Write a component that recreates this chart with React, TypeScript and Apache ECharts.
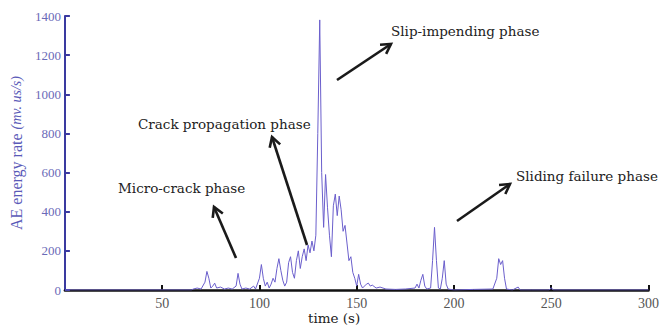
import React, { useEffect, useRef } from "react";
import * as echarts from "echarts";

const times = [0, 65, 66, 68, 70, 72, 73, 74, 75, 76, 77, 78, 80, 82, 84, 86, 88, 89, 90, 91, 93, 95, 97, 98, 100, 101, 102, 103, 104, 105, 106, 107, 108, 109, 110, 111, 112, 113, 114, 115, 116, 117, 118, 119, 120, 121, 122, 123, 124, 125, 126, 127, 128, 129, 130, 131, 132, 133, 134, 135, 136, 137, 138, 139, 140, 141, 142, 143, 144, 145, 146, 147, 148, 149, 150, 151, 152, 153, 155, 156, 157, 158, 160, 162, 165, 170, 175, 180, 181, 182, 183, 184, 185, 186, 188, 189, 190, 191, 192, 193, 194, 195, 196, 197, 200, 210, 220, 222, 223, 224, 225, 226, 227, 230, 233, 234, 240, 249, 250, 251, 300];
const energy = [0, 0, 5, 10, 5, 40, 95, 60, 10, 20, 35, 10, 15, 5, 10, 5, 20, 85, 30, 5, 10, 5, 20, 5, 60, 130, 60, 20, 40, 10, 30, 60, 40, 110, 160, 100, 50, 20, 40, 140, 170, 90, 60, 150, 200, 110, 170, 210, 150, 230, 190, 250, 200, 280, 800, 1380, 600, 320, 590, 420, 280, 170, 430, 490, 380, 480, 410, 300, 330, 240, 150, 170, 90, 60, 20, 80, 30, 10, 30, 35, 20, 25, 10, 15, 5, 3, 5, 10, 30, 10, 50, 80, 20, 5, 10, 150, 320, 150, 10, 5, 60, 150, 30, 5, 0, 3, 5, 60, 160, 130, 150, 60, 5, 0, 15, 0, 0, 0, 12, 0, 0];
const xTicks = [50, 100, 150, 200, 250, 300];
const yTicks = [0, 200, 400, 600, 800, 1000, 1200, 1400];
const phaseLabels = ["Micro-crack phase", "Crack propagation phase", "Slip-impending phase", "Sliding failure phase"];

function arrow(x1: number, y1: number, x2: number, y2: number) {
  const dx = x2 - x1, dy = y2 - y1;
  const len = Math.sqrt(dx * dx + dy * dy);
  const ux = dx / len, uy = dy / len;
  const h = 11, a = Math.PI / 6;
  const c = Math.cos(a), s = Math.sin(a);
  const w1 = [x2 - h * (ux * c - uy * s), y2 - h * (uy * c + ux * s)];
  const w2 = [x2 - h * (ux * c + uy * s), y2 - h * (uy * c - ux * s)];
  const st = { stroke: "#1a1a1a", lineWidth: 2.6, fill: null as any };
  return [
    { type: "line", shape: { x1, y1, x2, y2 }, style: st, silent: true },
    { type: "polyline", shape: { points: [w1, [x2, y2], w2] }, style: st, silent: true },
  ];
}

export default function App() {
  const ref = useRef<HTMLDivElement>(null);
  useEffect(() => {
    if (!ref.current) return;
    const chart = echarts.init(ref.current, null, { renderer: "svg" });
    const font = "'Liberation Serif', 'DejaVu Serif', serif";
    const afont = "'DejaVu Serif', serif";
    const textStyle = (x: number, y: number, t: string) => ({
      type: "text",
      x,
      y,
      style: { text: t, fill: "#222", font: `13.5px ${afont}`, textVerticalAlign: "middle" },
      silent: true,
    });
    chart.setOption({
      animation: false,
      backgroundColor: "#fff",
      grid: { left: 63, right: 13, top: 16, bottom: 35, containLabel: false },
      xAxis: {
        type: "value",
        min: 0,
        max: 300,
        interval: 50,
        axisLine: { show: true, onZero: false, lineStyle: { color: "#111", width: 2.5 } },
        axisTick: { show: true, inside: true, length: 5, lineStyle: { color: "#111", width: 2 } },
        axisLabel: {
          color: "#555",
          fontFamily: font,
          fontSize: 14,
          margin: 6,
          showMinLabel: false,
          formatter: (v: number) => (xTicks.includes(v) ? String(v) : ""),
        },
        splitLine: { show: false },
      },
      yAxis: {
        type: "value",
        min: 0,
        max: 1400,
        interval: 200,
        axisLine: { show: true, lineStyle: { color: "#3a3aa0", width: 2 } },
        axisTick: { show: true, inside: true, length: 5, lineStyle: { color: "#3a3aa0", width: 2 } },
        axisLabel: {
          color: "#6a6ab8",
          fontFamily: font,
          fontSize: 13,
          margin: 4,
          formatter: (v: number) => (yTicks.includes(v) ? String(v) : ""),
        },
        splitLine: { show: false },
        name: "AE energy rate {u|(mv. us/s)}",
        nameLocation: "middle",
        nameGap: 40,
        nameTextStyle: {
          color: "#5a5ab8",
          fontFamily: font,
          fontSize: 16,
          rich: { u: { fontSize: 14, fontStyle: "italic", color: "#5a5ab8", fontFamily: font } },
        },
      },
      series: [
        {
          type: "line",
          data: times.map((t, i) => [t, energy[i]]),
          showSymbol: false,
          lineStyle: { color: "#6b5fcc", width: 1 },
          z: 1,
        },
      ],
      graphic: [
        {
          type: "text",
          x: 308,
          y: 318,
          style: { text: "time (s)", fill: "#222", font: `13.5px ${afont}`, textVerticalAlign: "middle" },
          silent: true,
        },
        textStyle(118, 188, phaseLabels[0]),
        textStyle(138, 124, phaseLabels[1]),
        textStyle(391, 31, phaseLabels[2]),
        textStyle(516, 176, phaseLabels[3]),
        ...arrow(236, 258, 214, 207),
        ...arrow(307, 245, 272, 137),
        ...arrow(337, 80, 391, 44),
        ...arrow(457, 221, 510, 184),
      ],
    });
    return () => chart.dispose();
  }, []);
  return <div ref={ref} style={{ width: 662, height: 325, position: "absolute", left: 0, top: 0 }} />;
}
